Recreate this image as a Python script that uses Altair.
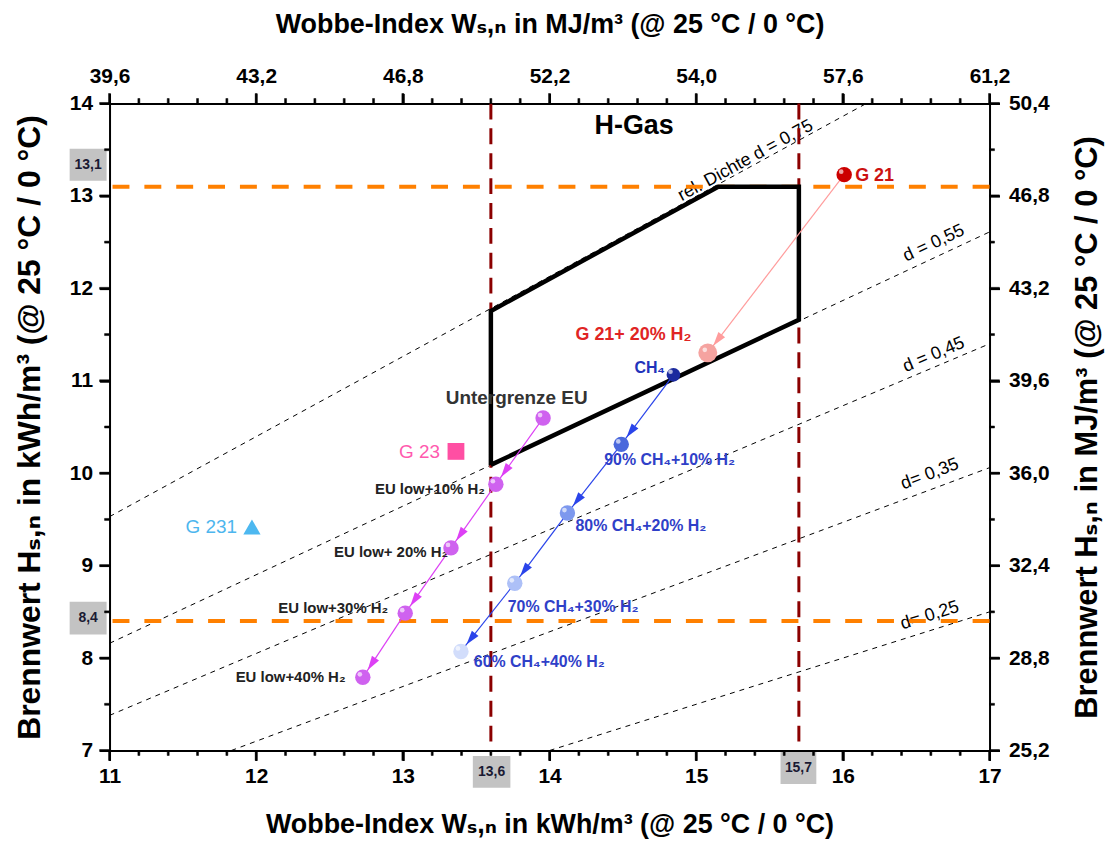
import math
import altair as alt
import pandas as pd

# ------------------------------------------------------------------ data
# H-Gas region (Wobbe index kWh/m3, Brennwert kWh/m3)
poly_w = [13.6, 13.6, 15.15, 15.7, 15.7, 13.6]
poly_h = [10.09, 11.755, 13.1, 13.1, 11.66, 10.09]

# relative density lines (end points)
dens_d = ["0,75", "0,55", "0,45", "0,35", "0,25"]
dens_w1 = [11.0, 11.0, 11.0, 11.83, 14.0]
dens_h1 = [9.53, 8.16, 7.38, 7.0, 7.0]
dens_w2 = [16.16, 17.0, 17.0, 17.0, 17.0]
dens_h2 = [14.0, 12.61, 11.40, 10.06, 8.5]
dens_labels = ["rel. Dichte d = 0,75", "d = 0,55", "d = 0,45", "d= 0,35", "d= 0,25"]
dens_lab_w = [15.337, 16.62, 16.62, 16.593, 16.593]
dens_lab_h = [13.381, 12.487, 11.28, 9.989, 8.459]

# limits
ref_w = [13.6, 15.7]
ref_h = [13.1, 8.4]

# EU lower limit + H2 admixture
eu_w = [13.956, 13.634, 13.328, 13.016, 12.727]
eu_h = [10.597, 9.881, 9.192, 8.486, 7.792]
eu_names = ["Untergrenze EU", "EU low+10% H₂", "EU low+ 20% H₂", "EU low+30% H₂", "EU low+40% H₂"]
eu_lab_w = [13.776, 13.559, 13.308, 12.90, 12.609]
eu_lab_h = [10.818, 9.827, 9.149, 8.545, 7.80]

# CH4 + H2 admixture
ch_w = [14.845, 14.489, 14.122, 13.763, 13.396]
ch_h = [11.065, 10.312, 9.569, 8.809, 8.072]
ch_names = ["CH₄", "90% CH₄+10% H₂", "80% CH₄+20% H₂", "70% CH₄+30% H₂", "60% CH₄+40% H₂"]
ch_lab_w = [14.787, 14.373, 14.177, 13.715, 13.484]
ch_lab_h = [11.141, 10.143, 9.429, 8.556, 7.953]

# test gases
g21_w = [16.009, 15.079]
g21_h = [13.230, 11.302]
g21_names = ["G 21", "G 21+ 20% H₂"]
g21_lab_w = [16.084, 14.177]
g21_lab_h = [13.219, 11.496]

g23_w, g23_h, g23_name = [13.362], [10.236], ["G 23"]
g23_lab_w, g23_lab_h = [13.253], [10.23]
g231_w, g231_h, g231_name = [11.971], [9.418], ["G 231"]
g231_lab_w, g231_lab_h = [11.869], [9.415]

hgas_w, hgas_h, hgas_txt = [14.577], [13.757], ["H-Gas"]

# grey value boxes
box_txt = ["13,1", "8,4", "13,6", "15,7"]
box_w1 = [10.728, 10.728, 13.477, 15.575]
box_w2 = [10.980, 10.980, 13.733, 15.819]
box_h1 = [13.165, 8.256, 6.596, 6.637]
box_h2 = [13.51, 8.61, 6.941, 6.985]

# axis ticks / labels
x_major = [11, 12, 13, 14, 15, 16, 17]
x_top_labels = ["39,6", "43,2", "46,8", "52,2", "54,0", "57,6", "61,2"]
y_major = [7, 8, 9, 10, 11, 12, 13, 14]
y_right_labels = ["25,2", "28,8", "32,4", "36,0", "39,6", "43,2", "46,8", "50,4"]
x_minor = [round(a + 0.2 * k, 1) for a in x_major[:-1] for k in (1, 2, 3, 4)]
y_minor = [a + 0.5 for a in y_major[:-1]]

# ------------------------------------------------------------------ styles
FONT = "Liberation Sans, Arial, DejaVu Sans, sans-serif"
W, H = 884, 650
SX, SY = W / 6.0, H / 7.0
MAJOR_LEN, MINOR_LEN, TICK_W = 10, 5, 2
eu_ball = "#cf62ef"
eu_line = "#dd40f5"
ch_colors = ["#1b2a9e", "#4a68dc", "#7d98ee", "#adc0f7", "#d2ddfb"]
ch_sizes = [190, 240, 240, 240, 240]
ch_line = "#2a44ea"
g21_colors = ["#cc0000", "#f5a3a0"]
g21_sizes = [240, 360]
g21_line = "#ff9c9c"

xs = alt.Scale(domain=[11, 17], nice=False, zero=False)
ys = alt.Scale(domain=[7, 14], nice=False, zero=False)


def X(f):
    return alt.X(f, type="quantitative", scale=xs, axis=None)


def Y(f):
    return alt.Y(f, type="quantitative", scale=ys, axis=None)


# ------------------------------------------------------------------ layers
dens_rows = []
for i, d in enumerate(dens_d):
    dens_rows.append({"d": d, "w": dens_w1[i], "h": dens_h1[i], "o": 0})
    dens_rows.append({"d": d, "w": dens_w2[i], "h": dens_h2[i], "o": 1})
dens = alt.Chart(pd.DataFrame(dens_rows)).mark_line(
    color="black", strokeWidth=1, strokeDash=[5, 5], clip=True
).encode(X("w"), Y("h"), detail="d:N", order="o:Q")

dens_ang = []
for i in range(len(dens_d)):
    a = math.degrees(math.atan2((dens_h2[i] - dens_h1[i]) * SY, (dens_w2[i] - dens_w1[i]) * SX))
    dens_ang.append((360 - a) % 360)
dens_lab = alt.Chart(pd.DataFrame({"w": dens_lab_w, "h": dens_lab_h, "t": dens_labels, "a": dens_ang})).mark_text(
    font=FONT, fontSize=18, color="black", align="center", baseline="middle"
).encode(X("w"), Y("h"), text="t:N", angle=alt.Angle("a:Q", scale=None))

vref = alt.Chart(pd.DataFrame({"w": ref_w})).mark_rule(
    color="#8b0000", strokeWidth=3, strokeDash=[16, 9]
).encode(X("w"))
href = alt.Chart(pd.DataFrame({"h": ref_h})).mark_rule(
    color="#ff8000", strokeWidth=4, strokeDash=[17, 15]
).encode(Y("h"))

poly = alt.Chart(pd.DataFrame({"w": poly_w, "h": poly_h, "o": list(range(len(poly_w)))})).mark_line(
    color="black", strokeWidth=4.5, strokeJoin="miter"
).encode(X("w"), Y("h"), order="o:Q")


def chain(ws, hs, color):
    seg, heads = [], []
    for i in range(len(ws) - 1):
        w0, h0, w1, h1 = ws[i], hs[i], ws[i + 1], hs[i + 1]
        seg.append({"w": w0, "h": h0, "w2": w1, "h2": h1, "c": color})
        dx, dy = (w1 - w0) * SX, -(h1 - h0) * SY
        L = math.hypot(dx, dy)
        t = 1 - 16.0 / L
        heads.append({"w": w0 + t * (w1 - w0), "h": h0 + t * (h1 - h0),
                      "a": math.degrees(math.atan2(dx, -dy)) % 360, "c": color})
    return seg, heads


seg_rows, head_rows = [], []
for ws, hs, c in [(eu_w, eu_h, eu_line), (ch_w, ch_h, ch_line), (g21_w, g21_h, g21_line)]:
    s, hd = chain(ws, hs, c)
    seg_rows += s
    head_rows += hd

segs = alt.Chart(pd.DataFrame(seg_rows)).mark_rule(strokeWidth=1.2).encode(
    X("w"), Y("h"), x2="w2:Q", y2="h2:Q", color=alt.Color("c:N", scale=None)
)
heads = alt.Chart(pd.DataFrame(head_rows)).mark_point(
    shape="M0,-1L0.6,1L-0.6,1Z", filled=True, opacity=1, size=200
).encode(X("w"), Y("h"), angle=alt.Angle("a:Q", scale=None), color=alt.Color("c:N", scale=None))

# text labels
txt_eu0 = alt.Chart(pd.DataFrame({"w": eu_lab_w[:1], "h": eu_lab_h[:1], "t": eu_names[:1]})).mark_text(
    font=FONT, fontSize=19, fontWeight="bold", color="#333333", align="center", baseline="middle"
).encode(X("w"), Y("h"), text="t:N")
txt_eu = alt.Chart(pd.DataFrame({"w": eu_lab_w[1:], "h": eu_lab_h[1:], "t": eu_names[1:]})).mark_text(
    font=FONT, fontSize=15, fontWeight="bold", color="#222222", align="right", baseline="middle"
).encode(X("w"), Y("h"), text="t:N")
txt_ch0 = alt.Chart(pd.DataFrame({"w": ch_lab_w[:1], "h": ch_lab_h[:1], "t": ch_names[:1]})).mark_text(
    font=FONT, fontSize=16, fontWeight="bold", color="#2233bb", align="right", baseline="middle"
).encode(X("w"), Y("h"), text="t:N")
txt_ch = alt.Chart(pd.DataFrame({"w": ch_lab_w[1:], "h": ch_lab_h[1:], "t": ch_names[1:]})).mark_text(
    font=FONT, fontSize=16, fontWeight="bold", color="#2f40c8", align="left", baseline="middle"
).encode(X("w"), Y("h"), text="t:N")
txt_g21 = alt.Chart(pd.DataFrame({"w": g21_lab_w, "h": g21_lab_h, "t": g21_names, "c": ["#cc1111", "#e02424"]})).mark_text(
    font=FONT, fontSize=18, fontWeight="bold", align="left", baseline="middle"
).encode(X("w"), Y("h"), text="t:N", color=alt.Color("c:N", scale=None))
txt_g23 = alt.Chart(pd.DataFrame({"w": g23_lab_w, "h": g23_lab_h, "t": g23_name})).mark_text(
    font=FONT, fontSize=19, color="#ff5aae", align="right", baseline="middle"
).encode(X("w"), Y("h"), text="t:N")
txt_g231 = alt.Chart(pd.DataFrame({"w": g231_lab_w, "h": g231_lab_h, "t": g231_name})).mark_text(
    font=FONT, fontSize=19, color="#4db6ee", align="right", baseline="middle"
).encode(X("w"), Y("h"), text="t:N")
txt_hgas = alt.Chart(pd.DataFrame({"w": hgas_w, "h": hgas_h, "t": hgas_txt})).mark_text(
    font=FONT, fontSize=27, fontWeight="bold", color="black", align="center", baseline="middle"
).encode(X("w"), Y("h"), text="t:N")

# balls
ball_rows = []
for i in range(len(eu_w)):
    ball_rows.append({"w": eu_w[i], "h": eu_h[i], "c": eu_ball, "s": 240})
for i in range(len(ch_w)):
    ball_rows.append({"w": ch_w[i], "h": ch_h[i], "c": ch_colors[i], "s": ch_sizes[i]})
for i in range(len(g21_w)):
    ball_rows.append({"w": g21_w[i], "h": g21_h[i], "c": g21_colors[i], "s": g21_sizes[i]})
balls_df = pd.DataFrame(ball_rows)
balls = alt.Chart(balls_df).mark_circle(opacity=1).encode(
    X("w"), Y("h"), color=alt.Color("c:N", scale=None), size=alt.Size("s:Q", scale=None)
)
shine = alt.Chart(balls_df).mark_circle(color="white", opacity=0.65, size=22, xOffset=-3, yOffset=-3).encode(
    X("w"), Y("h")
)
g23 = alt.Chart(pd.DataFrame({"w": g23_w, "h": g23_h})).mark_square(
    color="#ff4fa3", opacity=1, size=285
).encode(X("w"), Y("h"))
g231 = alt.Chart(pd.DataFrame({"w": g231_w, "h": g231_h})).mark_point(
    shape="triangle-up", filled=True, color="#4db8f0", opacity=1, size=300
).encode(X("w"), Y("h"))

# grey boxes
boxes_df = pd.DataFrame({"t": box_txt, "w1": box_w1, "w2": box_w2, "h1": box_h1, "h2": box_h2})
boxes = alt.Chart(boxes_df).mark_rect(color="#c3c3c3", clip=False).encode(
    X("w1"), Y("h1"), x2="w2:Q", y2="h2:Q"
)
boxes_txt = alt.Chart(boxes_df).transform_calculate(
    wc="(datum.w1 + datum.w2) / 2", hc="(datum.h1 + datum.h2) / 2"
).mark_text(font=FONT, fontSize=14, fontWeight="bold", color="#1a1a33", align="center", baseline="middle").encode(
    X("wc"), Y("hc"), text="t:N"
)

# ------------------------------------------------------------------ tick marks (small rects through the scales)
tick_rows = []
hw, hh = (TICK_W / 2) / SX, (TICK_W / 2) / SY
for vals, ln in [(x_major, MAJOR_LEN), (x_minor, MINOR_LEN)]:
    for v in vals:
        tick_rows.append({"x1": v - hw, "x2": v + hw, "y1": 7.0 - ln / SY, "y2": 7.0})
        tick_rows.append({"x1": v - hw, "x2": v + hw, "y1": 14.0, "y2": 14.0 + ln / SY})
for vals, ln in [(y_major, MAJOR_LEN), (y_minor, MINOR_LEN)]:
    for v in vals:
        tick_rows.append({"x1": 11.0 - ln / SX, "x2": 11.0, "y1": v - hh, "y2": v + hh})
        tick_rows.append({"x1": 17.0, "x2": 17.0 + ln / SX, "y1": v - hh, "y2": v + hh})
ticks = alt.Chart(pd.DataFrame(tick_rows)).mark_rect(
    color="black", fill="black", stroke="black", strokeWidth=0.5, opacity=1, clip=False
).encode(X("x1"), Y("y1"), x2="x2:Q", y2="y2:Q")

# ------------------------------------------------------------------ axes
top_arr = "[" + ",".join("'%s'" % s for s in x_top_labels) + "]"
right_arr = "[" + ",".join("'%s'" % s for s in y_right_labels) + "]"
common = dict(
    domainColor="black", domainWidth=2, tickColor="black", tickWidth=2, tickSize=MAJOR_LEN,
    labelFont=FONT, labelFontSize=21, labelFontWeight="bold", labelColor="black",
    labelOverlap=False, labelFlush=False, titleFont=FONT, titleFontWeight="bold",
    titleColor="black", titleAlign="center", titleBaseline="middle", grid=False, zindex=0,
)
ax_bottom = alt.Axis(
    orient="bottom", values=x_major, labelPadding=5, format="d",
    title="Wobbe-Index Wₛ,ₙ in kWh/m³ (@ 25 °C / 0 °C)", titleFontSize=27, titleX=W / 2, titleY=74, **common,
)
ax_top = alt.Axis(
    orient="top", values=x_major, labelPadding=7,
    labelExpr=f"{top_arr}[round(datum.value) - {x_major[0]}]",
    title="Wobbe-Index Wₛ,ₙ in MJ/m³ (@ 25 °C / 0 °C)", titleFontSize=27, titleX=W / 2, titleY=-79, **common,
)
ax_left = alt.Axis(
    orient="left", values=y_major, labelPadding=7, format="d",
    title="Brennwert Hₛ,ₙ in kWh/m³ (@ 25 °C / 0 °C)", titleFontSize=32, titleAngle=270,
    titleX=-80, titleY=H / 2, **common,
)
ax_right = alt.Axis(
    orient="right", values=y_major, labelPadding=9,
    labelExpr=f"{right_arr}[round(datum.value) - {y_major[0]}]",
    title="Brennwert Hₛ,ₙ in MJ/m³ (@ 25 °C / 0 °C)", titleFontSize=31, titleAngle=270,
    titleX=98, titleY=H / 2, **common,
)
anchor = pd.DataFrame({"w": [14.0], "h": [10.0]})


def axis_layer(ax_x, ax_y):
    return alt.Chart(anchor).mark_point(opacity=0).encode(
        alt.X("w:Q", scale=xs, axis=ax_x), alt.Y("h:Q", scale=ys, axis=ax_y)
    )


axes1 = axis_layer(ax_bottom, ax_left)
axes2 = axis_layer(ax_top, ax_right)

chart = alt.layer(
    axes1, axes2, dens, dens_lab, href, vref, poly, segs, heads,
    txt_eu0, txt_eu, txt_ch0, txt_ch, txt_g21, txt_g23, txt_g231, txt_hgas,
    balls, shine, g23, g231, boxes, boxes_txt, ticks,
).resolve_axis(x="independent", y="independent").properties(
    width=W, height=H,
    padding={"left": 102, "top": 94, "right": 118, "bottom": 92},
    autosize=alt.AutoSizeParams(type="none"),
).configure_view(stroke=None)

chart.save("out.html", embed_options={"renderer": "svg", "actions": False})
